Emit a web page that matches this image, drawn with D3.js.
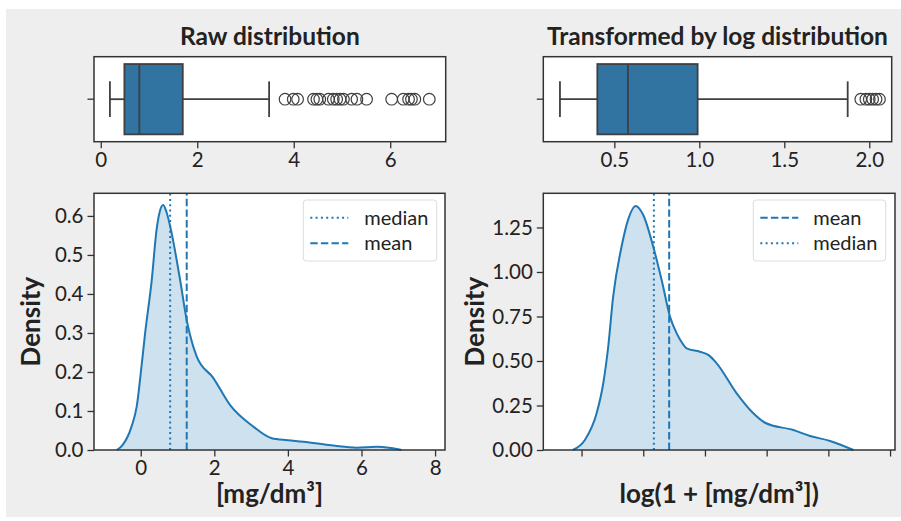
<!DOCTYPE html>
<html><head><meta charset="utf-8">
<script src="https://cdn.jsdelivr.net/npm/d3@7"></script>
<style>
html,body{margin:0;padding:0;background:#fff;}
svg text{font-family:Lato,"Open Sans",sans-serif;fill:#222;}
</style></head>
<body>
<svg id="c" width="901" height="521"></svg>
<script>
// ---------- data ----------
const rawBoxStats = {whiskerLow:0.19, q1:0.49, median:0.80, q3:1.70, whiskerHigh:3.49};
const rawOutliers = [3.82,3.99,4.08,4.41,4.48,4.54,4.72,4.82,4.89,4.96,5.03,5.20,5.31,5.51,6.03,6.27,6.38,6.44,6.51,6.81];
const logBoxStats = {whiskerLow:0.18, q1:0.40, median:0.58, q3:0.99, whiskerHigh:1.873};
const logOutliers = [1.95,1.98,2.00,2.02,2.04,2.06];

const rawKdeX = [-0.65,-0.5,-0.25,-0.11,0.03,0.12,0.30,0.43,0.52,0.61,0.70,0.84,1.07,1.25,1.34,1.52,1.97,2.43,3.06,3.56,4.0,4.42,5.0,5.33,5.87,6.41,6.8,7.09];
const rawKdeY = [0.0,0.012,0.06,0.111,0.222,0.300,0.436,0.564,0.612,0.628,0.61,0.556,0.436,0.333,0.295,0.240,0.185,0.115,0.060,0.030,0.025,0.021,0.014,0.010,0.006,0.0085,0.005,0.0];
const logKdeX = [-0.07,0.027,0.122,0.176,0.216,0.256,0.324,0.38,0.438,0.50,0.581,0.649,0.717,0.771,0.80,0.852,0.959,1.027,1.095,1.257,1.392,1.487,1.716,1.851,2.014,2.203];
const logKdeY = [0.0,0.056,0.206,0.375,0.58,0.861,1.142,1.30,1.371,1.32,1.142,0.955,0.749,0.655,0.618,0.571,0.552,0.534,0.487,0.318,0.206,0.153,0.112,0.079,0.051,0.0];

const rawMean = 1.25, rawMedian = 0.80;
const logMean = 0.71, logMedian = 0.586;

const rawBoxTicks = [0,2,4,6];
const logBoxTicks = [0.5,1.0,1.5,2.0];
const rawKdeXTicks = [0,2,4,6,8];
const logKdeXTicks = [0,0.5,1.0,1.5,2.0,2.5];
const rawKdeYTicks = [0,0.1,0.2,0.3,0.4,0.5,0.6];
const logKdeYTicks = [0,0.25,0.5,0.75,1.0,1.25];

const titles = ["Raw distribution","Transformed by log distribution"];
const xLabels = ["[mg/dm³]","log(1 + [mg/dm³])"];
const yLabel = "Density";

// ---------- drawing ----------
const svg = d3.select("#c");
svg.append("rect").attr("x",6).attr("y",9).attr("width",895).attr("height",508).attr("fill","#eeeeee");

const BLUE = "#1f77b4", BOXFILL = "#3274a1", EDGE = "#3f3f3f", SPINE = "#333";
const FS = 20.5;

function spines(g, x0, x1, y0, y1){
  g.append("rect").attr("x",x0).attr("y",y0).attr("width",x1-x0).attr("height",y1-y0)
   .attr("fill","none").attr("stroke",SPINE).attr("stroke-width",1.5);
}
function xAxis(g, scale, y, ticks, fmt, showLabels){
  const ax = d3.axisBottom(scale).tickValues(ticks).tickSize(6.5).tickPadding(4)
     .tickFormat(showLabels ? fmt : () => "");
  const a = g.append("g").attr("transform",`translate(0,${y})`).call(ax);
  a.select(".domain").remove();
  a.selectAll(".tick line").attr("stroke",SPINE).attr("stroke-width",1.3);
  a.selectAll(".tick text").style("font-size",FS+"px").attr("fill","#222");
}
function yAxis(g, scale, x, ticks, fmt){
  const ax = d3.axisLeft(scale).tickValues(ticks).tickSize(6.5).tickPadding(4).tickFormat(fmt);
  const a = g.append("g").attr("transform",`translate(${x},0)`).call(ax);
  a.select(".domain").remove();
  a.selectAll(".tick line").attr("stroke",SPINE).attr("stroke-width",1.3);
  a.selectAll(".tick text").style("font-size",FS+"px").attr("fill","#222");
}

function boxPanel(p){
  const g = svg.append("g");
  const x = d3.scaleLinear().domain(p.domain).range([p.x0,p.x1]);
  const yC = (p.y0+p.y1)/2, boxH = 70.3, capH = 35.7;
  g.append("rect").attr("x",p.x0).attr("y",p.y0).attr("width",p.x1-p.x0).attr("height",p.y1-p.y0).attr("fill","#fff");
  const s = p.stats;
  g.append("line").attr("x1",x(s.whiskerLow)).attr("x2",x(s.q1)).attr("y1",yC).attr("y2",yC).attr("stroke",EDGE).attr("stroke-width",1.8);
  g.append("line").attr("x1",x(s.q3)).attr("x2",x(s.whiskerHigh)).attr("y1",yC).attr("y2",yC).attr("stroke",EDGE).attr("stroke-width",1.8);
  [s.whiskerLow,s.whiskerHigh].forEach(v=>{
    g.append("line").attr("x1",x(v)).attr("x2",x(v)).attr("y1",yC-capH/2).attr("y2",yC+capH/2).attr("stroke",EDGE).attr("stroke-width",1.8);
  });
  g.append("rect").attr("x",x(s.q1)).attr("y",yC-boxH/2).attr("width",x(s.q3)-x(s.q1)).attr("height",boxH)
   .attr("fill",BOXFILL).attr("stroke",EDGE).attr("stroke-width",1.8);
  g.append("line").attr("x1",x(s.median)).attr("x2",x(s.median)).attr("y1",yC-boxH/2).attr("y2",yC+boxH/2).attr("stroke",EDGE).attr("stroke-width",1.8);
  g.selectAll("circle.o").data(p.outliers).join("circle").attr("class","o")
   .attr("cx",d=>x(d)).attr("cy",yC).attr("r",5.8).attr("fill","none").attr("stroke",EDGE).attr("stroke-width",1.2);
  spines(g,p.x0,p.x1,p.y0,p.y1);
  xAxis(g,x,p.y1,p.ticks,p.fmt,true);
  g.append("line").attr("x1",p.x0-6.5).attr("x2",p.x0).attr("y1",yC).attr("y2",yC).attr("stroke",SPINE).attr("stroke-width",1.3);
  g.append("text").attr("x",(p.x0+p.x1)/2).attr("y",45).attr("text-anchor","middle")
   .style("font-size","24.5px").style("font-weight","bold").text(p.title);
}

function kdePanel(p){
  const g = svg.append("g");
  const x = d3.scaleLinear().domain(p.domain).range([p.x0,p.x1]);
  const y = d3.scaleLinear().domain(p.ydomain).range([p.y1,p.y0]);
  g.append("rect").attr("x",p.x0).attr("y",p.y0).attr("width",p.x1-p.x0).attr("height",p.y1-p.y0).attr("fill","#fff");
  const pts = p.kx.map((v,i)=>[v,p.ky[i]]);
  const area = d3.area().x(d=>x(d[0])).y0(y(0)).y1(d=>y(d[1])).curve(d3.curveMonotoneX);
  const line = d3.line().x(d=>x(d[0])).y(d=>y(d[1])).curve(d3.curveMonotoneX);
  g.append("path").attr("d",area(pts)).attr("fill",BLUE).attr("fill-opacity",0.22);
  g.append("path").attr("d",line(pts)).attr("fill","none").attr("stroke",BLUE).attr("stroke-width",2);
  const styles = {mean:"7.4,3.2", median:"2,3.3"};
  const vals = {mean:p.mean, median:p.median};
  ["median","mean"].forEach(k=>{
    g.append("line").attr("x1",x(vals[k])).attr("x2",x(vals[k])).attr("y1",p.y1).attr("y2",p.y0)
     .attr("stroke",BLUE).attr("stroke-width",2).attr("stroke-dasharray",styles[k]);
  });
  spines(g,p.x0,p.x1,p.y0,p.y1);
  xAxis(g,x,p.y1,p.xticks,p.xfmt,p.showX);
  yAxis(g,y,p.x0,p.yticks,p.yfmt);
  const L = p.legend;
  g.append("rect").attr("x",L.x).attr("y",200).attr("width",L.w).attr("height",61).attr("rx",3)
   .attr("fill","#fff").attr("fill-opacity",0.8).attr("stroke","#ddd").attr("stroke-width",1);
  p.legendOrder.forEach((k,i)=>{
    const ly = 217.7 + i*25.6;
    g.append("line").attr("x1",L.x+7).attr("x2",L.x+45).attr("y1",ly).attr("y2",ly)
     .attr("stroke",BLUE).attr("stroke-width",2).attr("stroke-dasharray",styles[k]);
    g.append("text").attr("x",L.x+L.tx).attr("y",ly+7).style("font-size","20px").text(k);
  });
  g.append("text").attr("x",(p.x0+p.x1)/2).attr("y",503).attr("text-anchor","middle")
   .style("font-size","26px").style("font-weight","bold").text(p.xlabel);
  g.append("text").attr("transform",`translate(${p.ylx},${(p.y0+p.y1)/2}) rotate(-90)`).attr("text-anchor","middle")
   .style("font-size","26px").style("font-weight","bold").text(yLabel);
}

const f1 = d3.format(".1f"), f0 = d3.format("d"), f2 = d3.format(".2f");

boxPanel({x0:94,x1:445.7,y0:56.7,y1:141.7,domain:[-0.14,7.15],stats:rawBoxStats,outliers:rawOutliers,ticks:rawBoxTicks,fmt:f0,title:titles[0]});
boxPanel({x0:543.3,x1:891.7,y0:56.7,y1:141.7,domain:[0.082,2.132],stats:logBoxStats,outliers:logOutliers,ticks:logBoxTicks,fmt:f1,title:titles[1]});

kdePanel({x0:94,x1:445,y0:193.3,y1:450,domain:[-1.27,8.27],ydomain:[0,0.658],kx:rawKdeX,ky:rawKdeY,
  mean:rawMean,median:rawMedian,xticks:rawKdeXTicks,xfmt:f0,showX:true,yticks:rawKdeYTicks,yfmt:f1,
  legend:{x:303.3,w:133.4,tx:61},legendOrder:["median","mean"],xlabel:xLabels[0],ylx:40});
kdePanel({x0:543.3,x1:895,y0:193.3,y1:450,domain:[-0.31,2.54],ydomain:[0,1.442],kx:logKdeX,ky:logKdeY,
  mean:logMean,median:logMedian,xticks:logKdeXTicks,xfmt:f1,showX:false,yticks:logKdeYTicks,yfmt:f2,
  legend:{x:753.3,w:132.4,tx:60},legendOrder:["mean","median"],xlabel:xLabels[1],ylx:484});
</script>
</body></html>
